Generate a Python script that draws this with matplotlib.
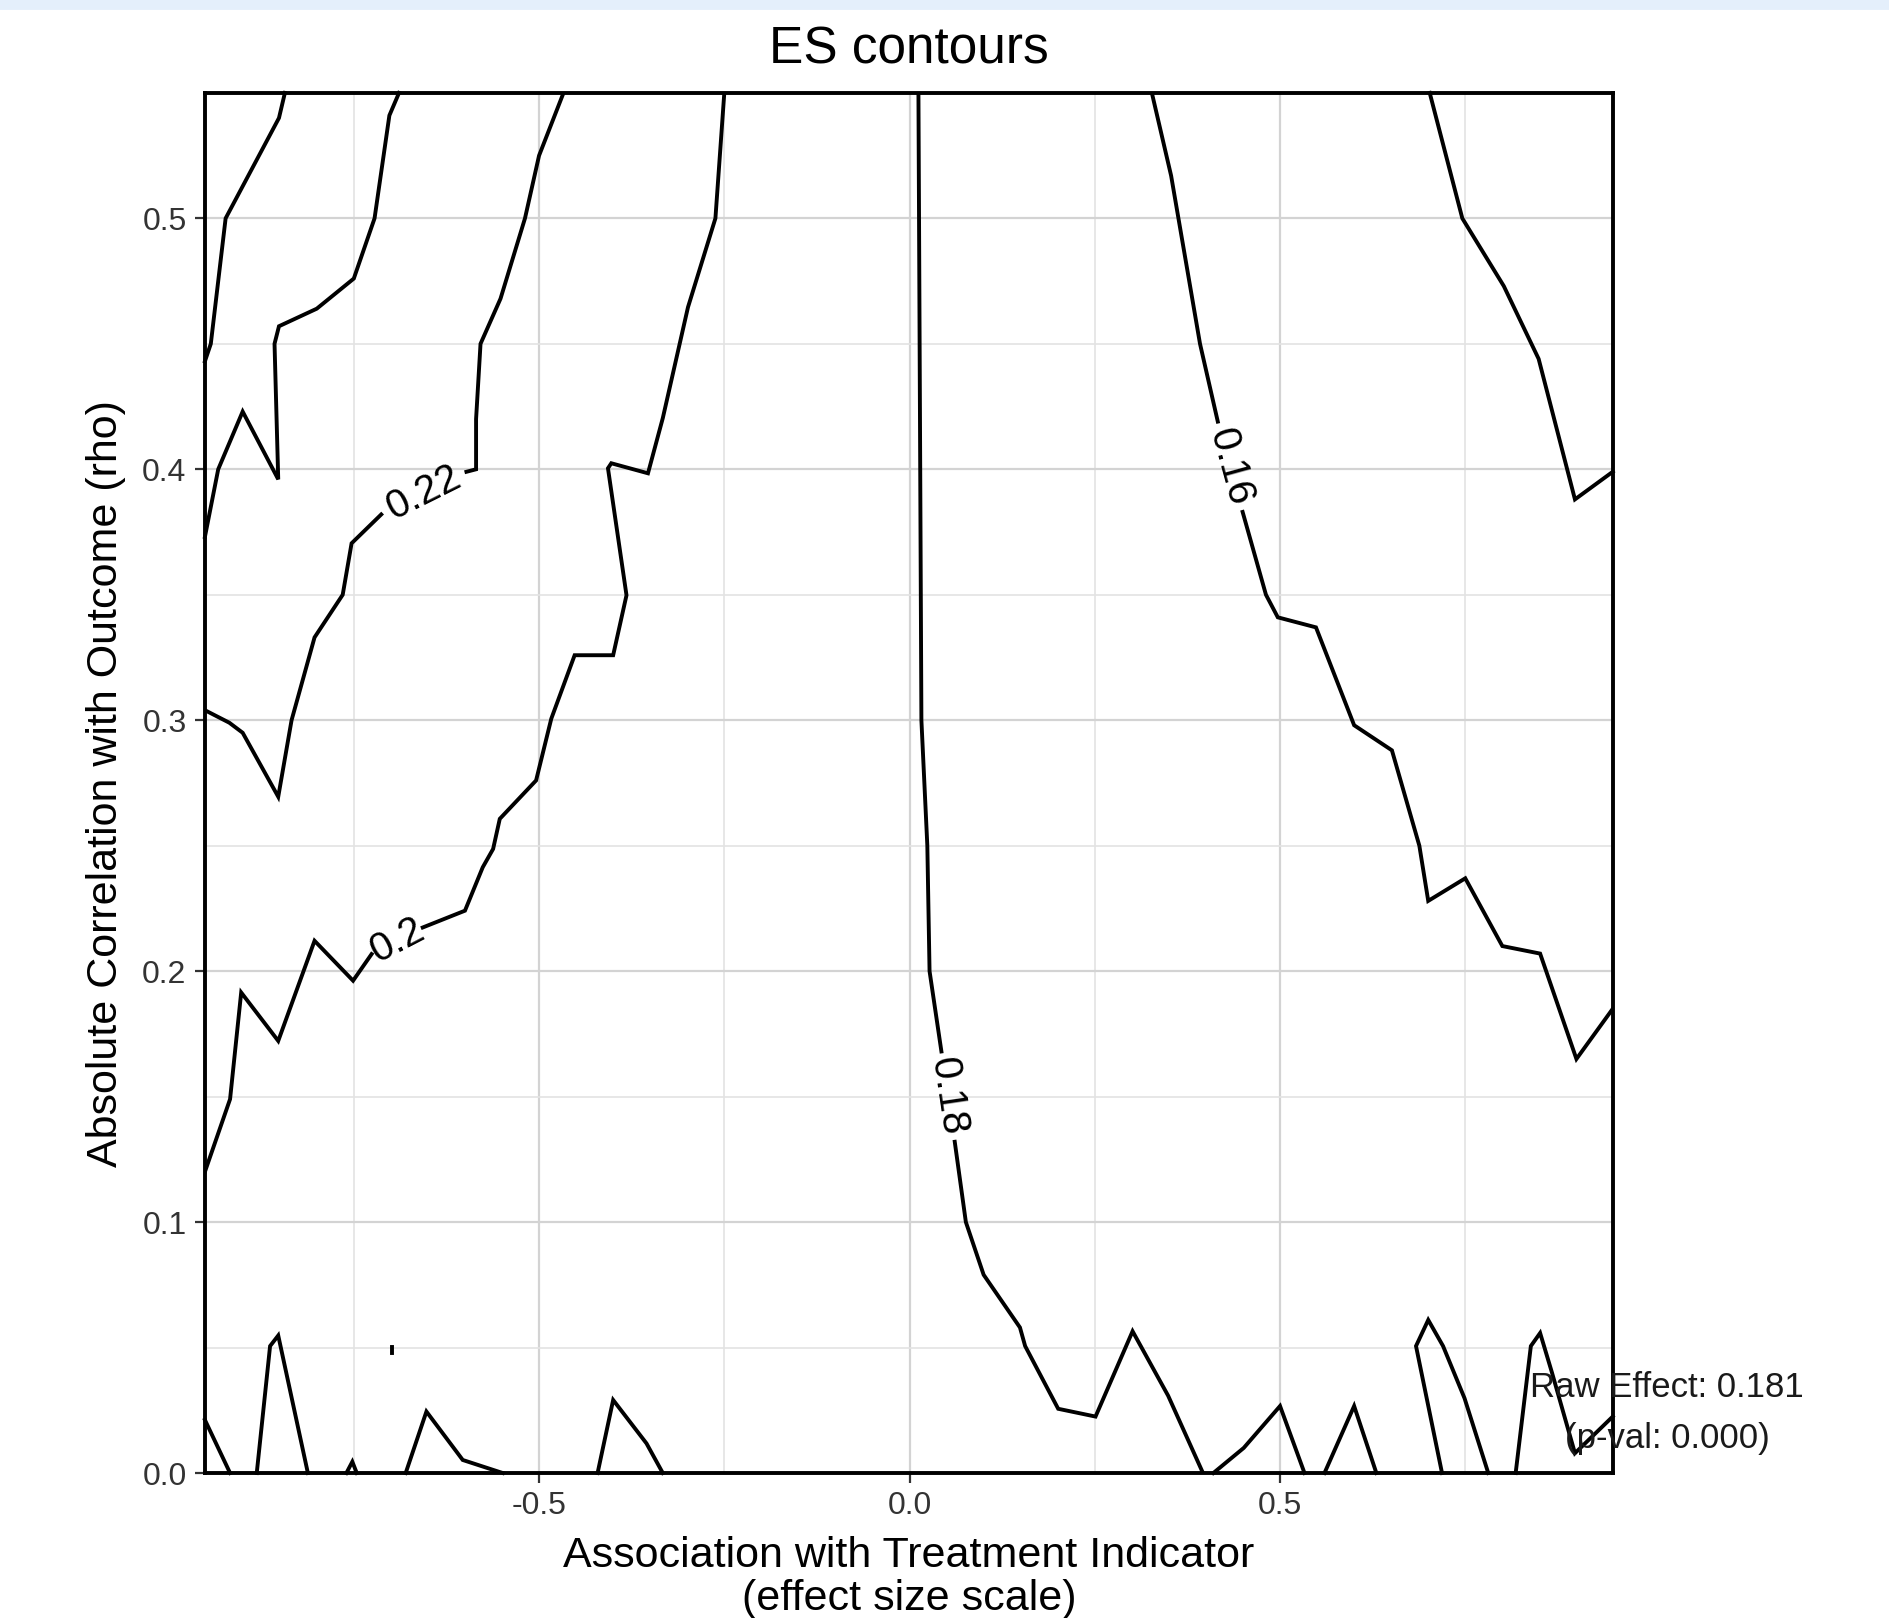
import numpy as np
import matplotlib.pyplot as plt
from matplotlib.patches import Rectangle
from matplotlib.ticker import MultipleLocator

plt.rcParams['font.family'] = ['Liberation Sans', 'DejaVu Sans']

# contour paths: (association, |rho|)
c_026 = [(-0.951, 0.443), (-0.943, 0.45), (-0.923, 0.50), (-0.851, 0.540), (-0.843, 0.55)]
c_024 = [(-0.951, 0.373), (-0.933, 0.400), (-0.900, 0.423), (-0.852, 0.396), (-0.857, 0.45),
         (-0.851, 0.457), (-0.800, 0.464), (-0.750, 0.476), (-0.722, 0.50), (-0.702, 0.541),
         (-0.689, 0.55)]
c_022_a = [(-0.951, 0.304), (-0.918, 0.299), (-0.900, 0.295), (-0.852, 0.2695), (-0.834, 0.300),
           (-0.803, 0.333), (-0.765, 0.350), (-0.753, 0.3705), (-0.713, 0.382)]
c_022_b = [(-0.598, 0.399), (-0.585, 0.400), (-0.585, 0.42), (-0.579, 0.45), (-0.552, 0.468),
           (-0.519, 0.50), (-0.500, 0.525), (-0.467, 0.55)]
c_020_a = [(-0.951, 0.120), (-0.917, 0.149), (-0.902, 0.1915), (-0.852, 0.1722), (-0.803, 0.2121),
           (-0.751, 0.1962), (-0.726, 0.2068)]
c_020_b = [(-0.657, 0.2174), (-0.600, 0.2241), (-0.576, 0.2414), (-0.562, 0.2487), (-0.553, 0.2607),
           (-0.504, 0.276), (-0.4835, 0.3006), (-0.452, 0.3259), (-0.400, 0.3259), (-0.382, 0.3498),
           (-0.407, 0.4004), (-0.4025, 0.4024), (-0.353, 0.3984), (-0.333, 0.4204),
           (-0.299, 0.4646), (-0.262, 0.50), (-0.250, 0.55)]
c_018_a = [(0.012, 0.55), (0.016, 0.30), (0.024, 0.25), (0.027, 0.20), (0.043, 0.168)]
c_018_b = [(0.061, 0.132), (0.076, 0.100), (0.100, 0.079), (0.149, 0.058), (0.156, 0.0506),
           (0.2006, 0.0256), (0.251, 0.0225), (0.301, 0.0565), (0.349, 0.0308), (0.396, 0.0)]
c_016_a = [(0.327, 0.55), (0.353, 0.517), (0.392, 0.45), (0.416, 0.419)]
c_016_b = [(0.4495, 0.383), (0.481, 0.350), (0.497, 0.341), (0.5485, 0.337), (0.600, 0.298),
           (0.651, 0.288), (0.688, 0.250), (0.700, 0.228), (0.750, 0.237), (0.800, 0.210),
           (0.851, 0.207), (0.900, 0.165), (0.949, 0.185)]
c_014 = [(0.702, 0.55), (0.746, 0.50), (0.802, 0.473), (0.849, 0.444), (0.898, 0.388), (0.949, 0.399)]

# small closed bits along rho = 0
bits = [
    [(-0.951, 0.0212), (-0.917, 0.0)],
    [(-0.881, 0.0), (-0.863, 0.0506), (-0.852, 0.0548), (-0.812, 0.0)],
    [(-0.760, 0.0), (-0.752, 0.0045), (-0.746, 0.0)],
    [(-0.699, 0.0478), (-0.699, 0.0502)],
    [(-0.680, 0.0), (-0.652, 0.0245), (-0.603, 0.0052), (-0.549, 0.0)],
    [(-0.421, 0.0), (-0.400, 0.0291), (-0.355, 0.0118), (-0.333, 0.0)],
    [(0.410, 0.0), (0.451, 0.010), (0.500, 0.0267), (0.533, 0.0)],
    [(0.560, 0.0), (0.600, 0.0267), (0.630, 0.0)],
    [(0.7186, 0.0), (0.6835, 0.0506), (0.700, 0.061), (0.720, 0.0506), (0.749, 0.0298), (0.781, 0.0)],
    [(0.818, 0.0), (0.8385, 0.0506), (0.851, 0.0558), (0.867, 0.040), (0.898, 0.0079), (0.949, 0.0225)],
]

# labelled contours: (text, piece before gap, piece after gap)
labelled = [
    ('0.22', c_022_a, c_022_b),
    ('0.2', c_020_a, c_020_b),
    ('0.18', c_018_a, c_018_b),
    ('0.16', c_016_a, c_016_b),
]

raw_effect = 0.181
p_val = 0.000

fig = plt.figure(figsize=(9.45, 8.09), dpi=200)
fig.patches.append(Rectangle((0, 1 - 8 / 1618), 1, 8 / 1618, transform=fig.transFigure,
                             color='#e4effb', zorder=0))
ax = fig.add_axes([0.1084, 0.0896, 0.8533 - 0.1084, 0.9426 - 0.0896])
ax.set_xlim(-0.951, 0.949)
ax.set_ylim(0, 0.55)

ax.xaxis.set_major_locator(MultipleLocator(0.5))
ax.xaxis.set_minor_locator(MultipleLocator(0.25))
ax.yaxis.set_major_locator(MultipleLocator(0.1))
ax.yaxis.set_minor_locator(MultipleLocator(0.05))
ax.xaxis.set_major_formatter(plt.FuncFormatter(lambda v, p: '%.1f' % v))
ax.yaxis.set_major_formatter(plt.FuncFormatter(lambda v, p: '%.1f' % v))
ax.grid(which='major', color='#d3d3d3', lw=0.8)
ax.grid(which='minor', color='#e3e3e3', lw=0.6)
ax.set_axisbelow(True)
ax.tick_params(which='major', length=3.6, width=0.8, color='#333333', labelcolor='#333333',
               labelsize=11.5, pad=3)
ax.tick_params(which='minor', length=0)
for s in ax.spines.values():
    s.set_linewidth(1.4)
    s.set_color('black')

lw = 1.4
for line in [c_026, c_024, c_014] + bits:
    xy = np.array(line)
    ax.plot(xy[:, 0], xy[:, 1], color='black', lw=lw, solid_joinstyle='miter', clip_on=False)

for txt, a, b in labelled:
    for piece in (a, b):
        xy = np.array(piece)
        ax.plot(xy[:, 0], xy[:, 1], color='black', lw=lw, solid_joinstyle='miter')
    p0 = np.array(a[-1])
    p1 = np.array(b[0])
    d0 = ax.transData.transform(p0)
    d1 = ax.transData.transform(p1)
    ang = np.degrees(np.arctan2(d1[1] - d0[1], d1[0] - d0[0]))
    if ang > 90:
        ang -= 180
    if ang < -90:
        ang += 180
    mid = (p0 + p1) / 2
    ax.text(mid[0], mid[1], txt, fontsize=14.5, rotation=ang, rotation_mode='anchor',
            ha='center', va='center', color='black')

ax.text(1.0224, 0.0238, 'Raw Effect: %.3f\n(p-val: %.3f)' % (raw_effect, p_val),
        ha='center', va='center', fontsize=12.5, linespacing=1.7, clip_on=False,
        color='#1a1a1a')

xc = (0.1084 + 0.8533) / 2
fig.text(xc, 0.969, 'ES contours', ha='center', va='center', fontsize=18.5)
fig.text(xc, 0.025, 'Association with Treatment Indicator\n(effect size scale)',
         ha='center', va='center', fontsize=15.5, linespacing=1.1)
fig.text(0.056, 0.516, 'Absolute Correlation with Outcome (rho)', rotation=90,
         ha='center', va='center', fontsize=15.5)

fig.savefig('out.png', dpi=200)
